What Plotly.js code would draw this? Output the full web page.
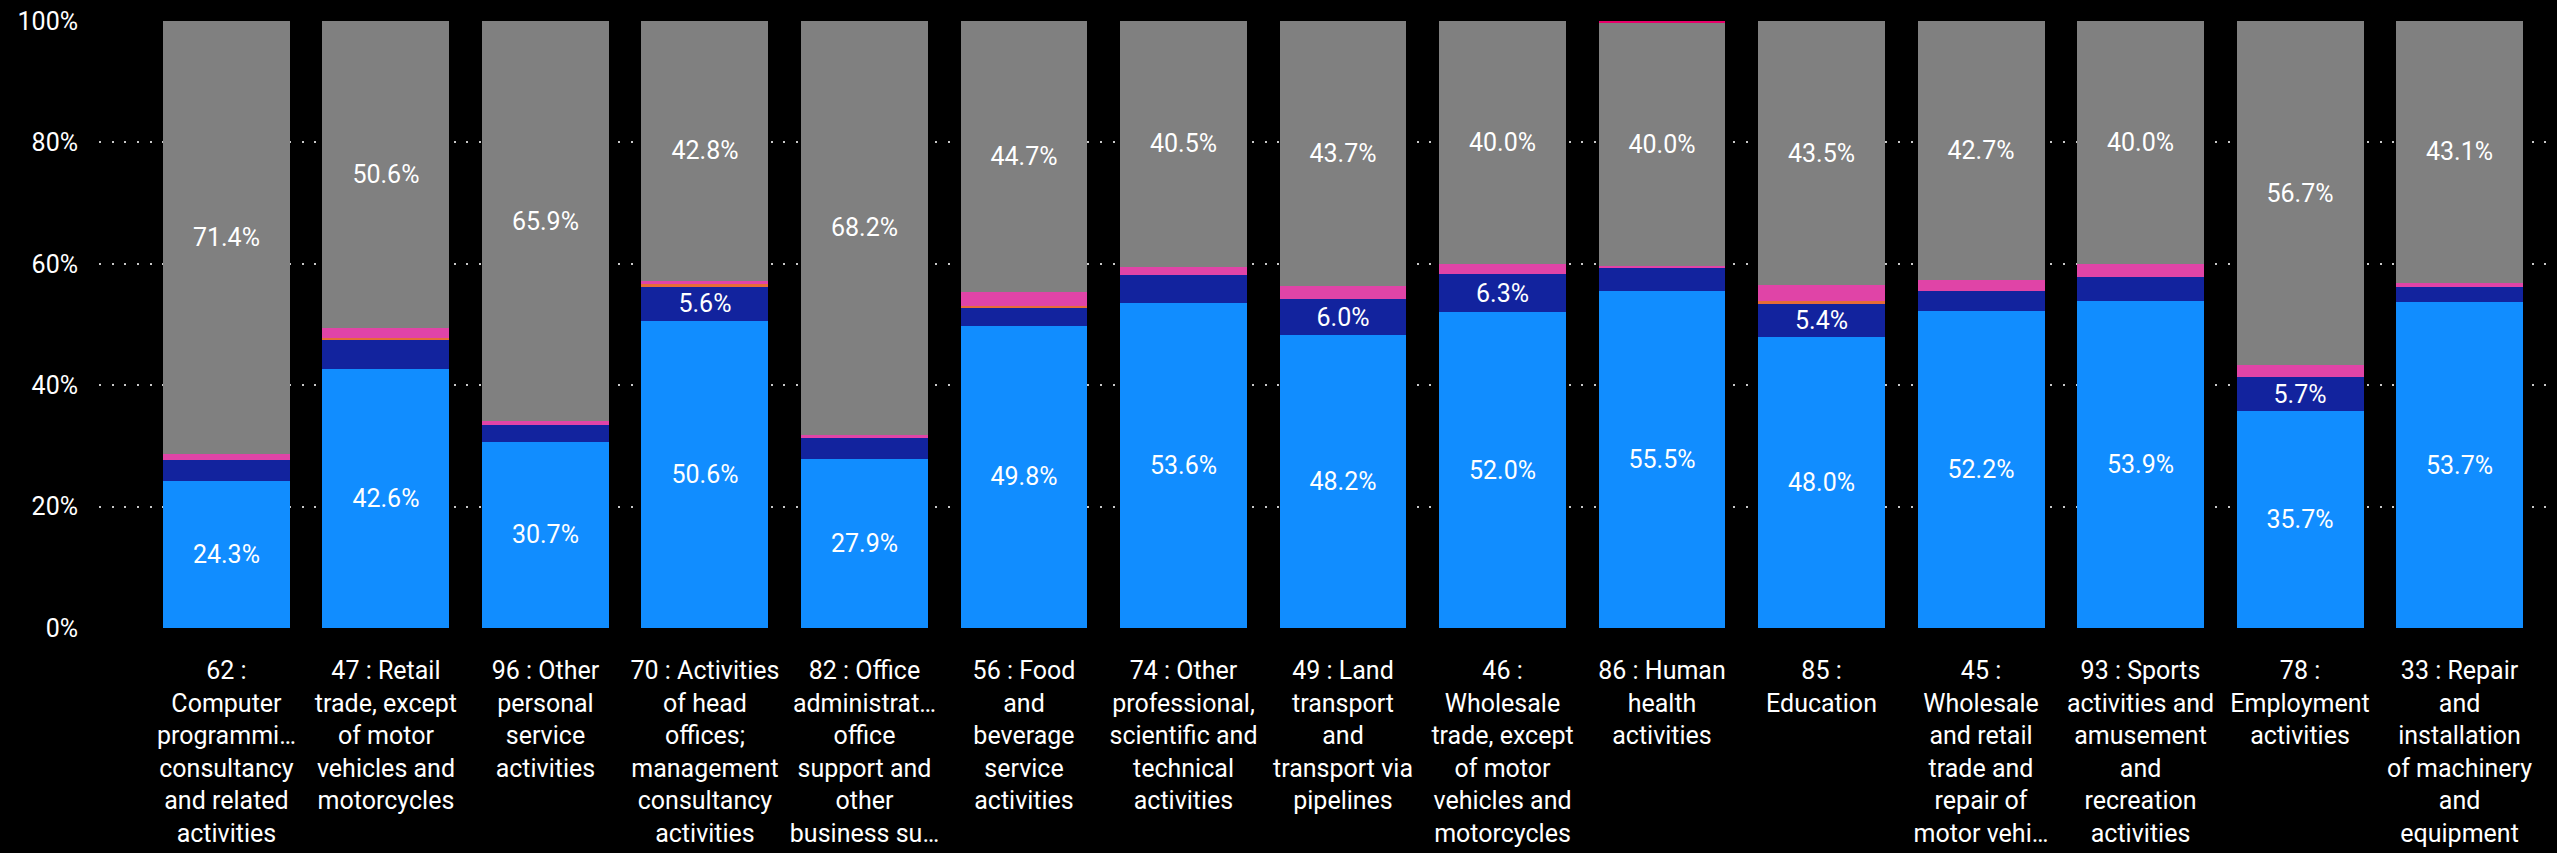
<!DOCTYPE html>
<html>
<head>
<meta charset="utf-8">
<script src="https://cdn.plot.ly/plotly-3.0.1.min.js"></script>
<style>
  html, body { margin: 0; padding: 0; background: #000000; }
  #chart { width: 2557px; height: 853px; }
</style>
</head>
<body>
<div id="chart"></div>
<script>
// ---- Data (percent share of each bar) ----
const categories = ["62", "47", "96", "70", "82", "56", "74", "49", "46", "86", "85", "45", "93", "78", "33"];

const tickLabels = [
  "62 :<br>Computer<br>programmi…<br>consultancy<br>and related<br>activities",
  "47 : Retail<br>trade, except<br>of motor<br>vehicles and<br>motorcycles",
  "96 : Other<br>personal<br>service<br>activities",
  "70 : Activities<br>of head<br>offices;<br>management<br>consultancy<br>activities",
  "82 : Office<br>administrat…<br>office<br>support and<br>other<br>business su…",
  "56 : Food<br>and<br>beverage<br>service<br>activities",
  "74 : Other<br>professional,<br>scientific and<br>technical<br>activities",
  "49 : Land<br>transport<br>and<br>transport via<br>pipelines",
  "46 :<br>Wholesale<br>trade, except<br>of motor<br>vehicles and<br>motorcycles",
  "86 : Human<br>health<br>activities",
  "85 :<br>Education",
  "45 :<br>Wholesale<br>and retail<br>trade and<br>repair of<br>motor vehi…",
  "93 : Sports<br>activities and<br>amusement<br>and<br>recreation<br>activities",
  "78 :<br>Employment<br>activities",
  "33 : Repair<br>and<br>installation<br>of machinery<br>and<br>equipment"
];

const seriesNames = ["Series A", "Series B", "Series C", "Series D", "Series E", "Series F"];

const seriesA = [24.3, 42.6, 30.7, 50.6, 27.9, 49.8, 53.6, 48.2, 52.0, 55.5, 48.0, 52.2, 53.9, 35.7, 53.7];
const seriesB = [3.4, 4.8, 2.7, 5.6, 3.4, 2.9, 4.6, 6.0, 6.3, 3.8, 5.4, 3.3, 3.9, 5.7, 2.4];
const seriesC = [0.0, 0.4, 0.0, 0.4, 0.0, 0.4, 0.0, 0.0, 0.0, 0.0, 0.4, 0.0, 0.0, 0.0, 0.0];
const seriesD = [0.9, 1.6, 0.7, 0.6, 0.5, 2.2, 1.3, 2.1, 1.7, 0.4, 2.7, 1.8, 2.2, 1.9, 0.8];
const seriesE = [71.4, 50.6, 65.9, 42.8, 68.2, 44.7, 40.5, 43.7, 40.0, 40.0, 43.5, 42.7, 40.0, 56.7, 43.1];
const seriesF = [0.0, 0.0, 0.0, 0.0, 0.0, 0.0, 0.0, 0.0, 0.0, 0.3, 0.0, 0.0, 0.0, 0.0, 0.0];

const allSeries = [seriesA, seriesB, seriesC, seriesD, seriesE, seriesF];
const colors = ["#118DFF", "#12239E", "#E66C37", "#E044A7", "#808080", "#E8006A"];

const FONT = "Segoe UI, Roboto, 'Noto Sans', sans-serif";
const LABEL_MIN = 5; // segments smaller than this carry no label

const traces = allSeries.map((vals, i) => ({
  type: "bar",
  name: seriesNames[i],
  x: categories,
  y: vals,
  marker: { color: colors[i], line: { width: 0 } },
  text: vals.map(v => (v >= LABEL_MIN ? v.toFixed(1) + "%" : "")),
  texttemplate: "%{text}",
  textposition: "inside",
  insidetextanchor: "middle",
  textangle: 0,
  constraintext: "none",
  insidetextfont: { family: FONT, size: 25, color: "#FFFFFF" },
  hoverinfo: "skip",
  showlegend: false
}));

const layout = {
  width: 2557,
  height: 853,
  paper_bgcolor: "#000000",
  plot_bgcolor: "#000000",
  barmode: "stack",
  bargap: 0.204,
  margin: { l: 99, r: 0, t: 21, b: 225, pad: 0 },
  uniformtext: { mode: "show", minsize: 25 },
  showlegend: false,
  font: { family: FONT, color: "#FFFFFF", size: 25 },
  xaxis: {
    type: "category",
    range: [-0.799, 14.611],
    tickvals: categories,
    ticktext: tickLabels,
    tickangle: 0,
    showgrid: false,
    zeroline: false,
    showline: false,
    ticks: "",
    ticklabelstandoff: 25,
    tickfont: { family: FONT, size: 25, color: "#FFFFFF" },
    automargin: false,
    fixedrange: true
  },
  yaxis: {
    range: [0, 100],
    dtick: 20,
    tick0: 0,
    ticksuffix: "%",
    showgrid: true,
    gridcolor: "#C8C8C8",
    gridwidth: 2,
    griddash: "2px,10.67px",
    zeroline: false,
    showline: false,
    ticks: "",
    ticklabelstandoff: 20,
    tickfont: { family: FONT, size: 25, color: "#FFFFFF" },
    automargin: false,
    fixedrange: true
  }
};

Plotly.newPlot("chart", traces, layout, { displayModeBar: false, staticPlot: true });
</script>
</body>
</html>
